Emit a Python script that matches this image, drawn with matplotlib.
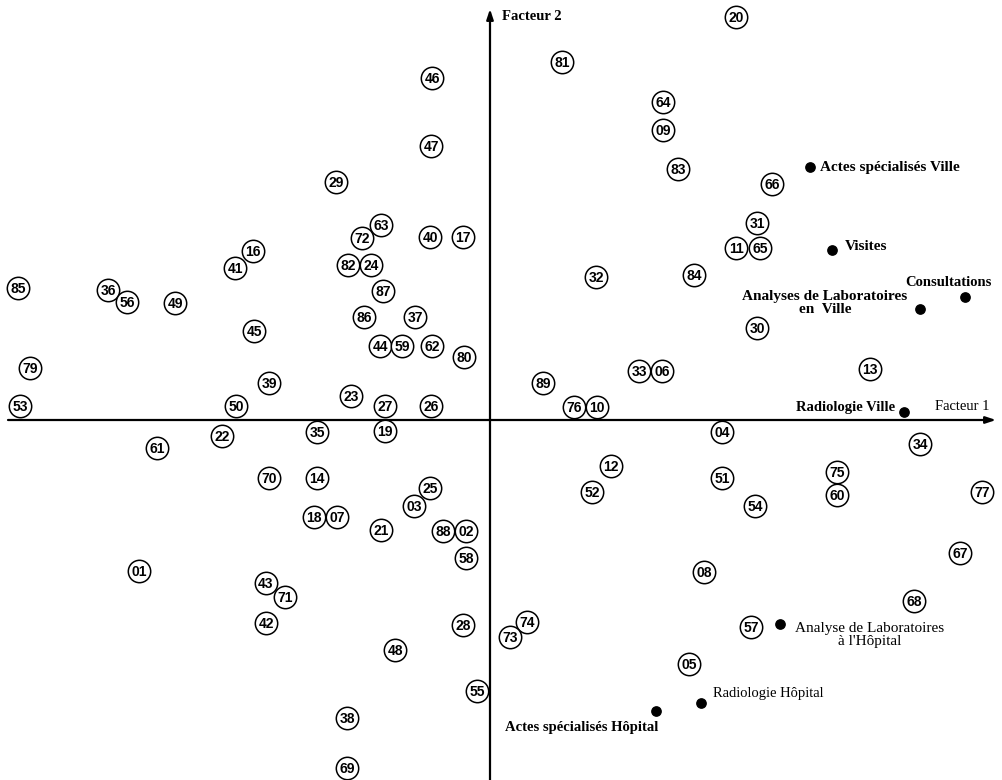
import matplotlib
matplotlib.use("Agg")
import matplotlib.pyplot as plt

# départements : numéro et coordonnées sur les facteurs 1 et 2
codes = ["20", "81", "46", "64", "09", "47", "83", "66", "29", "31",
         "63", "72", "40", "17", "11", "65", "16", "41", "82", "24",
         "32", "84", "85", "36", "56", "49", "87", "86", "37", "45",
         "30", "44", "59", "62", "80", "79", "33", "06", "89", "13",
         "39", "23", "53", "50", "27", "26", "76", "10", "04", "34",
         "22", "35", "19", "61", "12", "75", "70", "14", "51", "25",
         "52", "60", "77", "54", "03", "18", "07", "21", "88", "02",
         "58", "67", "01", "08", "43", "71", "68", "42", "28", "57",
         "74", "73", "48", "05", "55", "38", "69"]
f1 = [2.46, 0.72, -0.58, 1.73, 1.73, -0.59, 1.88, 2.82, -1.54, 2.67,
      -1.09, -1.28, -0.60, -0.27, 2.46, 2.70, -2.37, -2.55, -1.42, -1.19,
      1.06, 2.04, -4.72, -3.82, -3.63, -3.15, -1.07, -1.26, -0.75, -2.36,
      2.67, -1.10, -0.88, -0.58, -0.26, -4.60, 1.49, 1.72, 0.53, 3.80,
      -2.21, -1.39, -4.70, -2.54, -1.05, -0.59, 0.84, 1.07, 2.32, 4.30,
      -2.68, -1.73, -1.05, -3.33, 1.21, 3.47, -2.21, -1.73, 2.32, -0.60,
      1.02, 3.47, 4.92, 2.65, -0.76, -1.76, -1.53, -1.09, -0.47, -0.24,
      -0.24, 4.70, -3.51, 2.14, -2.24, -2.05, 4.24, -2.24, -0.27, 2.61,
      0.37, 0.20, -0.95, 1.99, -0.13, -1.43, -1.43]
f2 = [4.03, 3.58, 3.42, 3.18, 2.90, 2.74, 2.51, 2.36, 2.38, 1.97,
      1.95, 1.82, 1.83, 1.83, 1.72, 1.72, 1.69, 1.52, 1.55, 1.55,
      1.43, 1.45, 1.32, 1.30, 1.18, 1.17, 1.29, 1.03, 1.03, 0.89,
      0.92, 0.74, 0.74, 0.74, 0.63, 0.52, 0.49, 0.49, 0.37, 0.51,
      0.37, 0.24, 0.14, 0.14, 0.14, 0.14, 0.13, 0.13, -0.12, -0.24,
      -0.16, -0.12, -0.11, -0.28, -0.46, -0.52, -0.58, -0.58, -0.58, -0.68,
      -0.72, -0.75, -0.72, -0.86, -0.86, -0.97, -0.97, -1.10, -1.11, -1.11,
      -1.38, -1.33, -1.51, -1.52, -1.63, -1.77, -1.81, -2.03, -2.05, -2.07,
      -2.02, -2.17, -2.30, -2.44, -2.71, -2.98, -3.48]

# variables actives
variables = ["Actes spécialisés Ville", "Visites", "Consultations",
             "Analyses de Laboratoires\nen  Ville", "Radiologie Ville",
             "Analyse de Laboratoires\nà l'Hôpital", "Radiologie Hôpital",
             "Actes spécialisés Hôpital"]
v1 = [3.20, 3.42, 4.75, 4.30, 4.14, 2.90, 2.11, 1.66]
v2 = [2.53, 1.70, 1.23, 1.11, 0.08, -2.04, -2.83, -2.91]

# placement des étiquettes (décalage en pixels, alignement, graisse, taille)
label_style = [((10, 0), "left", "bold", 11),
               ((13, 4), "left", "bold", 11),
               ((-17, 15), "center", "bold", 10.5),
               ((-95, 6), "center", "bold", 11),
               ((-9, 5), "right", "bold", 10.5),
               ((90, -11), "center", "normal", 11),
               ((12, 9), "left", "normal", 10.5),
               ((-74, -16), "center", "bold", 10.5)]

fig = plt.figure(figsize=(10.02, 7.8), dpi=100)
ax = fig.add_axes([0, 0, 1, 1])
ax.set_xlim(-4.90, 5.12)
ax.set_ylim(-3.60, 4.20)
ax.axis("off")

# axes factoriels avec flèches
arrow = dict(arrowstyle="-|>,head_length=0.6,head_width=0.2", color="black",
             lw=1.6, shrinkA=0, shrinkB=0)
ax.annotate("", xy=(5.06, 0), xytext=(-4.82, 0), arrowprops=arrow)
ax.annotate("", xy=(0, 4.11), xytext=(0, -3.62), arrowprops=arrow)
ax.text(0.12, 4.04, "Facteur 2", family="Liberation Serif", fontsize=10.5,
        fontweight="bold", va="center", ha="left")
ax.text(4.45, 0.13, "Facteur 1", family="Liberation Serif", fontsize=10.5,
        va="center", ha="left")

# départements entourés
ax.scatter(f1, f2, s=260, facecolors="white", edgecolors="black",
           linewidths=1.1, zorder=3)
for c, x, y in zip(codes, f1, f2):
    ax.annotate(c, (x, y), xytext=(0, -1), textcoords="offset pixels",
                ha="center", va="center", fontsize=10,
                family="Liberation Sans", fontweight="bold", zorder=4)

# variables
ax.scatter(v1, v2, s=45, color="black", zorder=3)
for name, x, y, (off, ha, w, fs) in zip(variables, v1, v2, label_style):
    ax.annotate(name, (x, y), xytext=off, textcoords="offset pixels",
                ha=ha, va="center", multialignment="center",
                family="Liberation Serif", fontsize=fs, fontweight=w,
                linespacing=1.0)

fig.savefig("out.png", dpi=100, facecolor="white")
